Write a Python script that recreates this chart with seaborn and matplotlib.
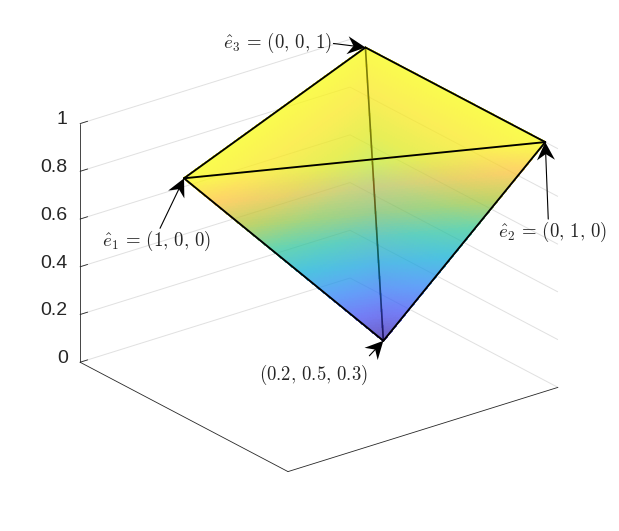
import numpy as np
import matplotlib
matplotlib.use("Agg")
import matplotlib.pyplot as plt
from matplotlib.patches import PathPatch
from matplotlib.path import Path
from matplotlib.transforms import IdentityTransform, Affine2D
from mpl_toolkits.mplot3d import proj3d
import seaborn as sns

# vertices: e1, e2, e3, interior point
vertex_x = [1.0, 0.0, 0.0, 0.2]
vertex_y = [0.5, 0.939, 0.074, 0.42]
vertex_z = [1.0, 1.0, 1.0, 0.0]
z_ticks = [0, 0.2, 0.4, 0.6, 0.8, 1]
z_tick_labels = ["0", "0.2", "0.4", "0.6", "0.8", "1"]
labels = [r"$\hat{e}_1\,=\,(1,\,0,\,0)$", r"$\hat{e}_2\,=\,(0,\,1,\,0)$",
          r"$\hat{e}_3\,=\,(0,\,0,\,1)$", r"$(0.2,\,0.5,\,0.3)$"]
parula = [(0.2422, 0.1504, 0.6603), (0.2810, 0.3228, 0.9579),
          (0.1786, 0.5289, 0.9682), (0.0689, 0.6948, 0.8394),
          (0.2161, 0.7843, 0.5923), (0.6720, 0.7793, 0.2227),
          (0.9970, 0.7659, 0.2199), (0.9769, 0.9839, 0.0805)]
back_faces = [(3, 0, 2), (3, 1, 2)]
front_faces = [(3, 0, 1), (0, 1, 2)]
edges = [(0, 1), (0, 2), (1, 2), (0, 3), (1, 3)]
hidden_edge = (2, 3)
# annotation offsets in pixels relative to the arrow tip: text, tail
text_offsets = [(-82, -63), (-47, -90), (-142, 5), (-124, -34)]
tail_offsets = [(-24, -50), (3, -77), (-32, 4), (-14, -15)]
BLACK = "#000000"

sns.set_theme(style="white", rc={
    "axes.edgecolor": "#262626", "axes.linewidth": 0.6,
    "grid.color": "#e0e0e0", "grid.linewidth": 0.7,
    "xtick.color": "#262626", "ytick.color": "#262626",
    "xtick.major.width": 0.6, "ytick.major.width": 0.6,
    "mathtext.fontset": "cm"})
plt.rcParams["font.family"] = ["Liberation Sans", "DejaVu Sans"]
cmap = sns.blend_palette(parula, as_cmap=True)

fig = plt.figure(figsize=(6.19, 5.31), dpi=100)
W = 532 / 619
H = 532 / 531
ax = fig.add_axes([(319 - 0.5135 * 532) / 619, (275.5 - 0.5135 * 532) / 531, W, H],
                  projection="3d", computed_zorder=False)
ax.set_proj_type("ortho")
ax.view_init(elev=23.9, azim=52.4)
ax.set_box_aspect((1, 1, 0.766))


def layer_alpha(img, dpi):
    out = img.copy()
    out[..., 3] *= 0.71
    return out, 0, 0


def add_face(face, zorder, n=70):
    p = np.array([[vertex_x[i], vertex_y[i], vertex_z[i]] for i in face])
    pts, tris, idx = [], [], {}
    for i in range(n + 1):
        for j in range(n + 1 - i):
            idx[(i, j)] = len(pts)
            pts.append((i * p[0] + j * p[1] + (n - i - j) * p[2]) / n)
    for i in range(n):
        for j in range(n - i):
            tris.append((idx[(i, j)], idx[(i + 1, j)], idx[(i, j + 1)]))
            if i + j < n - 1:
                tris.append((idx[(i + 1, j)], idx[(i + 1, j + 1)], idx[(i, j + 1)]))
    pts = np.array(pts)
    surf = ax.plot_trisurf(pts[:, 0], pts[:, 1], pts[:, 2], triangles=np.array(tris),
                           cmap=cmap, vmin=0, vmax=1, linewidth=0.8,
                           antialiased=False, zorder=zorder)
    surf.set_edgecolor("face")
    surf.set_agg_filter(layer_alpha)


for f in back_faces:
    add_face(f, 3)
ax.plot([vertex_x[i] for i in hidden_edge], [vertex_y[i] for i in hidden_edge],
        [vertex_z[i] for i in hidden_edge], color=BLACK, lw=1.2, zorder=4)
for f in front_faces:
    add_face(f, 5)
for e in edges:
    ax.plot([vertex_x[i] for i in e], [vertex_y[i] for i in e],
            [vertex_z[i] for i in e], color=BLACK, lw=1.35, zorder=6,
            solid_capstyle="round")

ax.set_xlim(0, 1, view_margin=0)
ax.set_ylim(0, 1, view_margin=0)
ax.set_zlim(0, 1, view_margin=0)
ax.set_xticks([])
ax.set_yticks([])
ax.set_zticks(z_ticks)
ax.set_zticklabels(z_tick_labels, fontsize=14, color="#262626", ha="right", va="center")
ax.tick_params(axis="z", pad=-2.4)
for axis in (ax.xaxis, ax.yaxis, ax.zaxis):
    axis.set_pane_color((1, 1, 1, 0))
    axis.pane.set_edgecolor((1, 1, 1, 0))
ax.grid(True)
ax.zaxis._axinfo["tick"].update({"inward_factor": 0.0, "outward_factor": 0.35})

# axis3d resets label transforms whenever ticks are fetched, so nudge them afterwards
_major_ticks = ax.zaxis.get_major_ticks


def nudged_ticks(numticks=None):
    ticks = _major_ticks(numticks)
    for t in ticks:
        t.label1.set_transform(ax.transData + Affine2D().translate(1, 3))
    return ticks


ax.zaxis.get_major_ticks = nudged_ticks

fig.canvas.draw()
M = ax.get_proj()
for i in range(4):
    X, Y, _ = proj3d.proj_transform(vertex_x[i], vertex_y[i], vertex_z[i], M)
    tip = ax.transData.transform((X, Y))
    ax.annotate(labels[i], xy=(X, Y), xytext=text_offsets[i], textcoords="offset pixels",
                ha="left", va="center", fontsize=13.5, color="#262626", annotation_clip=False)
    ax.annotate("", xy=(X, Y), xytext=tail_offsets[i], textcoords="offset pixels",
                arrowprops=dict(arrowstyle="-", color=BLACK, lw=0.8, shrinkA=0, shrinkB=5),
                annotation_clip=False)
    d = -np.array(tail_offsets[i], float)
    d /= np.hypot(*d)
    nrm = np.array([-d[1], d[0]])
    head = [tip, tip - 18 * d + 9 * nrm, tip - 12 * d, tip - 18 * d - 9 * nrm, tip]
    fig.add_artist(PathPatch(Path(head, closed=True), facecolor=BLACK, edgecolor="none",
                             transform=IdentityTransform()))

fig.savefig("out.png", dpi=100)
